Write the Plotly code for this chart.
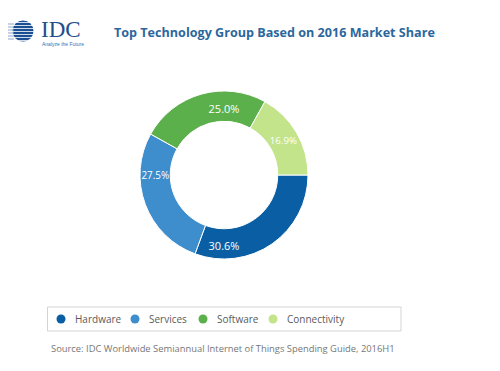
import plotly.graph_objects as go

labels = ["Hardware", "Services", "Software", "Connectivity"]
values = [30.6, 27.5, 25.0, 16.9]
colors = ["#0a5fa4", "#3e8dcc", "#5bb04b", "#c3e48b"]
title_text = "Top Technology Group Based on 2016 Market Share"
source_text = "Source: IDC Worldwide Semiannual Internet of Things Spending Guide, 2016H1"

# page body has an 8px margin; figure sized to fit the window
OFF = 8
W, H = 500 - OFF, 371 - OFF

def px(x):
    return (x - OFF) / W

def py(y):
    return 1 - (y - OFF) / H

fig = go.Figure()
fig.add_trace(go.Pie(
    labels=labels, values=values, sort=False, direction="clockwise", rotation=90,
    hole=0.64,
    marker=dict(colors=colors, line=dict(color="#ffffff", width=1)),
    texttemplate="%{value:.1f}%", textposition="inside", insidetextorientation="horizontal",
    textfont=dict(color="#ffffff", size=11, family="Open Sans"),
    showlegend=False, hoverinfo="label+percent",
    domain=dict(x=[px(140), px(308)], y=[py(260), py(90)]),
))

shapes = []
annotations = []

# IDC logo
shapes.append(dict(type="circle", xref="paper", yref="paper",
                   x0=px(12.5), x1=px(33.5), y0=py(41.5), y1=py(20.5),
                   fillcolor="#1a4f94", line=dict(width=0)))
for yy in [22.5, 25.5, 28.5, 31.5, 34.5, 37.5, 40.5]:
    shapes.append(dict(type="line", xref="paper", yref="paper",
                       x0=px(8), x1=px(36), y0=py(yy), y1=py(yy),
                       line=dict(color="rgba(255,255,255,0.8)", width=1)))
for yy in [24, 27, 30, 33, 36, 39]:
    shapes.append(dict(type="line", xref="paper", yref="paper",
                       x0=px(8), x1=px(14), y0=py(yy), y1=py(yy),
                       line=dict(color="#8fa6c8", width=1)))
annotations.append(dict(text="IDC", xref="paper", yref="paper", x=px(39), y=py(30),
                        xanchor="left", yanchor="middle", showarrow=False,
                        font=dict(family="Liberation Serif", size=23, color="#1e4f8c")))
annotations.append(dict(text="Analyze the Future", xref="paper", yref="paper", x=px(40), y=py(44),
                        xanchor="left", yanchor="middle", showarrow=False,
                        font=dict(family="Liberation Sans", size=5, color="#3a6fb0")))

# Title
annotations.append(dict(text="<b>" + title_text + "</b>", xref="paper", yref="paper",
                        x=px(112), y=py(32), xanchor="left", yanchor="middle", showarrow=False,
                        font=dict(family="Open Sans", size=12.6, color="#2b679c")))

# Legend box
shapes.append(dict(type="rect", xref="paper", yref="paper",
                   x0=px(47.5), x1=px(401), y0=py(331), y1=py(307),
                   fillcolor="#ffffff", line=dict(color="#d4d4d4", width=1)))
for lab, col, lx in zip(labels, colors, [61, 135, 203, 273]):
    shapes.append(dict(type="circle", xref="paper", yref="paper",
                       x0=px(lx - 4.5), x1=px(lx + 4.5), y0=py(323.5), y1=py(314.5),
                       fillcolor=col, line=dict(width=0)))
    annotations.append(dict(text=lab, xref="paper", yref="paper", x=px(lx + 12), y=py(319),
                            xanchor="left", yanchor="middle", showarrow=False,
                            font=dict(family="Open Sans", size=10, color="#5a5a5a")))

# Source
annotations.append(dict(text=source_text, xref="paper", yref="paper", x=px(49), y=py(348),
                        xanchor="left", yanchor="middle", showarrow=False,
                        font=dict(family="Open Sans", size=9.4, color="#777777")))

fig.update_layout(
    width=W, height=H, margin=dict(l=0, r=0, t=0, b=0),
    paper_bgcolor="#ffffff", plot_bgcolor="#ffffff",
    shapes=shapes, annotations=annotations,
)
fig.write_html("out.html")
